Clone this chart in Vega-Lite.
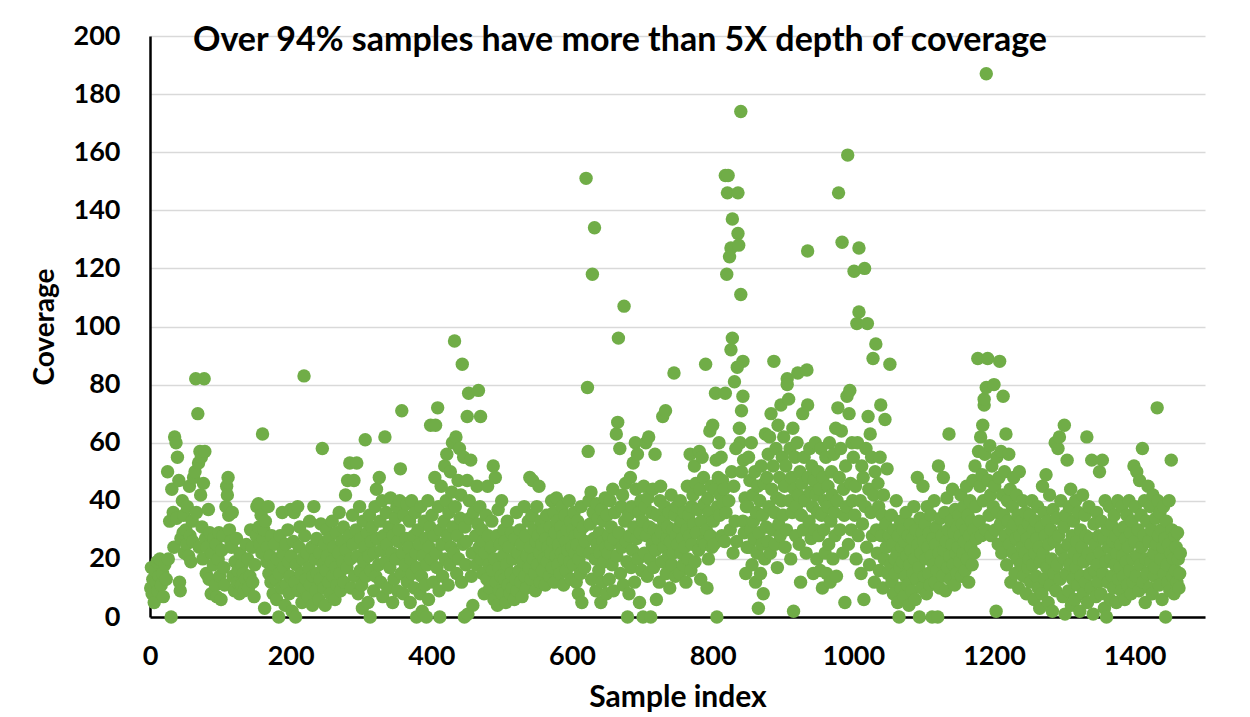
{
"$schema":"https://vega.github.io/schema/vega-lite/v6.json",
"autosize":{"type":"none"},
"padding":{"left":150,"top":36,"right":45,"bottom":100},
"width":1055,"height":581,
"background":"white",
"title":{"text":"Over 94% samples have more than 5X depth of coverage","anchor":"start","frame":"group","dx":43,"dy":44,"offset":-19,"baseline":"alphabetic","font":"Lato","fontSize":34,"fontWeight":"bold","color":"#000000"},
"data":{"values":[
{"idx":1,"cov":10},{"idx":2,"cov":17},{"idx":3,"cov":8},{"idx":4,"cov":13},{"idx":6,"cov":5},{"idx":7,"cov":16},{"idx":9,"cov":12},{"idx":10,"cov":19},{"idx":11,"cov":9},{"idx":13,"cov":14},{"idx":14,"cov":20},{"idx":16,"cov":11},{"idx":18,"cov":15},{"idx":19,"cov":7},{"idx":21,"cov":18},{"idx":23,"cov":13},{"idx":25,"cov":50},{"idx":26,"cov":20},{"idx":28,"cov":33},{"idx":30,"cov":0},{"idx":31,"cov":44},{"idx":33,"cov":36},{"idx":34,"cov":24},{"idx":35,"cov":62},{"idx":37,"cov":60},{"idx":38,"cov":34},{"idx":39,"cov":55},{"idx":41,"cov":47},{"idx":42,"cov":12},{"idx":43,"cov":9},{"idx":44,"cov":27},{"idx":46,"cov":40},{"idx":47,"cov":29},{"idx":48,"cov":35},{"idx":49,"cov":22},
{"idx":51,"cov":30},{"idx":52,"cov":25},{"idx":53,"cov":38},{"idx":55,"cov":21},{"idx":56,"cov":45},{"idx":57,"cov":28},{"idx":58,"cov":19},{"idx":60,"cov":33},{"idx":61,"cov":26},{"idx":62,"cov":48},{"idx":64,"cov":50},{"idx":65,"cov":82},{"idx":66,"cov":36},{"idx":68,"cov":70},{"idx":69,"cov":53},{"idx":70,"cov":24},{"idx":71,"cov":57},{"idx":72,"cov":42},{"idx":73,"cov":55},{"idx":74,"cov":31},{"idx":75,"cov":20},{"idx":77,"cov":82},{"idx":76,"cov":46},{"idx":78,"cov":57},{"idx":79,"cov":27},{"idx":80,"cov":15},{"idx":81,"cov":24},{"idx":83,"cov":37},{"idx":84,"cov":13},{"idx":85,"cov":29},{"idx":87,"cov":8},{"idx":88,"cov":22},{"idx":90,"cov":18},{"idx":91,"cov":27},{"idx":93,"cov":11},{"idx":94,"cov":25},{"idx":95,"cov":7},{"idx":97,"cov":20},{"idx":98,"cov":29},{"idx":99,"cov":14},
{"idx":101,"cov":6},{"idx":102,"cov":23},{"idx":104,"cov":28},{"idx":105,"cov":17},{"idx":106,"cov":11},{"idx":108,"cov":38},{"idx":109,"cov":45},{"idx":110,"cov":42},{"idx":111,"cov":48},{"idx":112,"cov":35},{"idx":113,"cov":30},{"idx":115,"cov":26},{"idx":116,"cov":24},{"idx":117,"cov":36},{"idx":118,"cov":14},{"idx":120,"cov":9},{"idx":121,"cov":19},{"idx":123,"cov":27},{"idx":124,"cov":12},{"idx":125,"cov":16},{"idx":127,"cov":8},{"idx":128,"cov":22},{"idx":130,"cov":11},{"idx":131,"cov":18},{"idx":133,"cov":15},{"idx":134,"cov":9},{"idx":136,"cov":13},{"idx":137,"cov":25},{"idx":139,"cov":20},{"idx":140,"cov":10},{"idx":142,"cov":14},{"idx":143,"cov":30},{"idx":145,"cov":24},{"idx":146,"cov":12},{"idx":148,"cov":7},{"idx":149,"cov":18},
{"idx":151,"cov":28},{"idx":152,"cov":38},{"idx":154,"cov":39},{"idx":155,"cov":31},{"idx":156,"cov":25},{"idx":158,"cov":35},{"idx":159,"cov":22},{"idx":160,"cov":63},{"idx":161,"cov":27},{"idx":162,"cov":30},{"idx":163,"cov":3},{"idx":164,"cov":33},{"idx":166,"cov":19},{"idx":167,"cov":24},{"idx":168,"cov":38},{"idx":169,"cov":15},{"idx":171,"cov":21},{"idx":172,"cov":12},{"idx":173,"cov":28},{"idx":175,"cov":8},{"idx":176,"cov":18},{"idx":177,"cov":25},{"idx":179,"cov":13},{"idx":180,"cov":6},{"idx":181,"cov":20},{"idx":183,"cov":0},{"idx":184,"cov":15},{"idx":185,"cov":28},{"idx":187,"cov":10},{"idx":188,"cov":36},{"idx":189,"cov":22},{"idx":190,"cov":17},{"idx":192,"cov":4},{"idx":193,"cov":25},{"idx":194,"cov":11},{"idx":196,"cov":30},{"idx":197,"cov":19},{"idx":198,"cov":8},{"idx":199,"cov":14},
{"idx":200,"cov":37},{"idx":201,"cov":21},{"idx":202,"cov":2},{"idx":204,"cov":26},{"idx":205,"cov":36},{"idx":206,"cov":12},{"idx":207,"cov":0},{"idx":208,"cov":18},{"idx":210,"cov":38},{"idx":211,"cov":9},{"idx":212,"cov":24},{"idx":213,"cov":31},{"idx":215,"cov":15},{"idx":216,"cov":5},{"idx":217,"cov":20},{"idx":218,"cov":10},{"idx":220,"cov":28},{"idx":219,"cov":83},{"idx":222,"cov":13},{"idx":223,"cov":22},{"idx":225,"cov":7},{"idx":226,"cov":17},{"idx":227,"cov":33},{"idx":228,"cov":11},{"idx":230,"cov":24},{"idx":231,"cov":4},{"idx":232,"cov":14},{"idx":233,"cov":38},{"idx":235,"cov":20},{"idx":236,"cov":9},{"idx":237,"cov":27},{"idx":238,"cov":15},{"idx":240,"cov":6},{"idx":241,"cov":22},{"idx":242,"cov":13},{"idx":243,"cov":32},{"idx":245,"cov":58},{"idx":246,"cov":18},{"idx":247,"cov":10},{"idx":248,"cov":25},{"idx":249,"cov":4},
{"idx":250,"cov":16},{"idx":251,"cov":30},{"idx":252,"cov":21},{"idx":254,"cov":12},{"idx":255,"cov":27},{"idx":256,"cov":8},{"idx":258,"cov":19},{"idx":259,"cov":33},{"idx":260,"cov":14},{"idx":261,"cov":24},{"idx":263,"cov":6},{"idx":264,"cov":17},{"idx":265,"cov":29},{"idx":266,"cov":11},{"idx":268,"cov":22},{"idx":269,"cov":36},{"idx":270,"cov":15},{"idx":271,"cov":9},{"idx":273,"cov":26},{"idx":274,"cov":19},{"idx":275,"cov":31},{"idx":276,"cov":12},{"idx":278,"cov":42},{"idx":279,"cov":23},{"idx":280,"cov":17},{"idx":281,"cov":47},{"idx":283,"cov":28},{"idx":284,"cov":53},{"idx":285,"cov":20},{"idx":286,"cov":10},{"idx":288,"cov":35},{"idx":289,"cov":25},{"idx":290,"cov":47},{"idx":291,"cov":14},{"idx":293,"cov":30},{"idx":294,"cov":53},{"idx":295,"cov":21},{"idx":296,"cov":8},{"idx":298,"cov":38},{"idx":299,"cov":16},
{"idx":300,"cov":27},{"idx":301,"cov":11},{"idx":302,"cov":3},{"idx":303,"cov":33},{"idx":304,"cov":19},{"idx":305,"cov":24},{"idx":306,"cov":61},{"idx":307,"cov":14},{"idx":309,"cov":29},{"idx":310,"cov":5},{"idx":311,"cov":21},{"idx":312,"cov":35},{"idx":313,"cov":0},{"idx":314,"cov":16},{"idx":315,"cov":26},{"idx":316,"cov":31},{"idx":318,"cov":9},{"idx":319,"cov":22},{"idx":320,"cov":38},{"idx":321,"cov":14},{"idx":322,"cov":44},{"idx":323,"cov":27},{"idx":325,"cov":18},{"idx":326,"cov":48},{"idx":327,"cov":33},{"idx":328,"cov":12},{"idx":329,"cov":23},{"idx":330,"cov":40},{"idx":331,"cov":7},{"idx":332,"cov":28},{"idx":334,"cov":62},{"idx":335,"cov":19},{"idx":336,"cov":36},{"idx":337,"cov":25},{"idx":338,"cov":10},{"idx":340,"cov":31},{"idx":341,"cov":17},{"idx":342,"cov":41},{"idx":344,"cov":22},{"idx":345,"cov":5},{"idx":346,"cov":28},{"idx":347,"cov":13},{"idx":349,"cov":34},
{"idx":350,"cov":20},{"idx":351,"cov":38},{"idx":352,"cov":9},{"idx":353,"cov":26},{"idx":358,"cov":71},{"idx":355,"cov":40},{"idx":356,"cov":51},{"idx":357,"cov":15},{"idx":354,"cov":30},{"idx":359,"cov":22},{"idx":360,"cov":8},{"idx":361,"cov":35},{"idx":363,"cov":18},{"idx":364,"cov":27},{"idx":365,"cov":39},{"idx":366,"cov":12},{"idx":368,"cov":24},{"idx":369,"cov":33},{"idx":370,"cov":5},{"idx":371,"cov":20},{"idx":372,"cov":40},{"idx":373,"cov":15},{"idx":375,"cov":28},{"idx":376,"cov":10},{"idx":377,"cov":36},{"idx":378,"cov":22},{"idx":379,"cov":0},{"idx":380,"cov":17},{"idx":381,"cov":30},{"idx":383,"cov":25},{"idx":384,"cov":8},{"idx":385,"cov":38},{"idx":386,"cov":14},{"idx":387,"cov":2},{"idx":388,"cov":21},{"idx":390,"cov":33},{"idx":391,"cov":11},{"idx":392,"cov":27},{"idx":393,"cov":0},{"idx":394,"cov":18},{"idx":395,"cov":40},{"idx":396,"cov":6},{"idx":397,"cov":24},{"idx":398,"cov":31},{"idx":399,"cov":66},
{"idx":400,"cov":20},{"idx":401,"cov":35},{"idx":403,"cov":12},{"idx":404,"cov":28},{"idx":405,"cov":48},{"idx":406,"cov":66},{"idx":407,"cov":22},{"idx":408,"cov":17},{"idx":409,"cov":72},{"idx":410,"cov":38},{"idx":411,"cov":9},{"idx":412,"cov":0},{"idx":413,"cov":30},{"idx":414,"cov":45},{"idx":415,"cov":25},{"idx":416,"cov":14},{"idx":418,"cov":33},{"idx":419,"cov":52},{"idx":420,"cov":20},{"idx":421,"cov":40},{"idx":422,"cov":56},{"idx":423,"cov":28},{"idx":424,"cov":11},{"idx":425,"cov":36},{"idx":426,"cov":18},{"idx":427,"cov":50},{"idx":428,"cov":24},{"idx":429,"cov":43},{"idx":430,"cov":60},{"idx":431,"cov":31},{"idx":433,"cov":95},{"idx":432,"cov":22},{"idx":434,"cov":38},{"idx":435,"cov":62},{"idx":436,"cov":15},{"idx":437,"cov":28},{"idx":438,"cov":47},{"idx":439,"cov":20},{"idx":440,"cov":58},{"idx":441,"cov":34},{"idx":444,"cov":87},{"idx":443,"cov":12},{"idx":442,"cov":42},{"idx":445,"cov":25},{"idx":446,"cov":55},{"idx":447,"cov":0},{"idx":448,"cov":31},{"idx":449,"cov":18},
{"idx":453,"cov":77},{"idx":451,"cov":47},{"idx":452,"cov":1},{"idx":450,"cov":26},{"idx":454,"cov":40},{"idx":455,"cov":34},{"idx":456,"cov":54},{"idx":457,"cov":14},{"idx":458,"cov":22},{"idx":459,"cov":4},{"idx":460,"cov":36},{"idx":451,"cov":69},{"idx":467,"cov":78},{"idx":463,"cov":28},{"idx":464,"cov":18},{"idx":465,"cov":45},{"idx":466,"cov":32},{"idx":470,"cov":69},{"idx":468,"cov":24},{"idx":469,"cov":38},{"idx":471,"cov":20},{"idx":472,"cov":30},{"idx":473,"cov":15},{"idx":474,"cov":26},{"idx":475,"cov":8},{"idx":476,"cov":22},{"idx":478,"cov":35},{"idx":479,"cov":13},{"idx":480,"cov":45},{"idx":481,"cov":28},{"idx":482,"cov":18},{"idx":483,"cov":10},{"idx":485,"cov":24},{"idx":486,"cov":33},{"idx":487,"cov":16},{"idx":488,"cov":52},{"idx":489,"cov":6},{"idx":490,"cov":20},{"idx":491,"cov":48},{"idx":492,"cov":12},{"idx":493,"cov":28},{"idx":494,"cov":4},{"idx":495,"cov":37},{"idx":496,"cov":17},{"idx":497,"cov":9},{"idx":498,"cov":25},{"idx":499,"cov":14},
{"idx":500,"cov":40},{"idx":501,"cov":8},{"idx":502,"cov":21},{"idx":503,"cov":30},{"idx":504,"cov":13},{"idx":505,"cov":26},{"idx":506,"cov":5},{"idx":507,"cov":18},{"idx":508,"cov":33},{"idx":509,"cov":11},{"idx":510,"cov":24},{"idx":512,"cov":8},{"idx":513,"cov":15},{"idx":514,"cov":29},{"idx":515,"cov":10},{"idx":516,"cov":20},{"idx":518,"cov":6},{"idx":519,"cov":27},{"idx":520,"cov":13},{"idx":521,"cov":36},{"idx":522,"cov":9},{"idx":523,"cov":22},{"idx":525,"cov":16},{"idx":526,"cov":30},{"idx":527,"cov":12},{"idx":528,"cov":25},{"idx":529,"cov":7},{"idx":530,"cov":19},{"idx":532,"cov":38},{"idx":533,"cov":14},{"idx":534,"cov":28},{"idx":535,"cov":10},{"idx":536,"cov":21},{"idx":538,"cov":33},{"idx":539,"cov":17},{"idx":540,"cov":48},{"idx":541,"cov":24},{"idx":542,"cov":13},{"idx":543,"cov":35},{"idx":544,"cov":47},{"idx":545,"cov":20},{"idx":546,"cov":30},{"idx":547,"cov":15},{"idx":548,"cov":9},{"idx":549,"cov":26},
{"idx":550,"cov":38},{"idx":551,"cov":18},{"idx":552,"cov":28},{"idx":553,"cov":45},{"idx":554,"cov":22},{"idx":555,"cov":12},{"idx":556,"cov":33},{"idx":557,"cov":25},{"idx":558,"cov":16},{"idx":559,"cov":30},{"idx":560,"cov":20},{"idx":562,"cov":11},{"idx":563,"cov":27},{"idx":564,"cov":35},{"idx":565,"cov":19},{"idx":566,"cov":24},{"idx":568,"cov":14},{"idx":569,"cov":31},{"idx":570,"cov":22},{"idx":571,"cov":40},{"idx":572,"cov":17},{"idx":573,"cov":26},{"idx":574,"cov":36},{"idx":575,"cov":12},{"idx":576,"cov":29},{"idx":577,"cov":21},{"idx":578,"cov":41},{"idx":579,"cov":33},{"idx":580,"cov":18},{"idx":581,"cov":25},{"idx":583,"cov":15},{"idx":584,"cov":31},{"idx":585,"cov":22},{"idx":586,"cov":38},{"idx":587,"cov":28},{"idx":588,"cov":11},{"idx":589,"cov":20},{"idx":590,"cov":35},{"idx":591,"cov":26},{"idx":592,"cov":16},{"idx":593,"cov":30},{"idx":594,"cov":23},{"idx":596,"cov":40},{"idx":597,"cov":19},{"idx":598,"cov":33},{"idx":599,"cov":13},
{"idx":600,"cov":24},{"idx":601,"cov":30},{"idx":602,"cov":18},{"idx":603,"cov":36},{"idx":604,"cov":22},{"idx":605,"cov":28},{"idx":606,"cov":12},{"idx":607,"cov":25},{"idx":608,"cov":33},{"idx":609,"cov":8},{"idx":610,"cov":20},{"idx":611,"cov":29},{"idx":612,"cov":15},{"idx":613,"cov":38},{"idx":614,"cov":5},{"idx":615,"cov":23},{"idx":616,"cov":31},{"idx":622,"cov":79},{"idx":620,"cov":151},{"idx":619,"cov":26},{"idx":618,"cov":17},{"idx":623,"cov":57},{"idx":624,"cov":40},{"idx":625,"cov":22},{"idx":629,"cov":118},{"idx":626,"cov":32},{"idx":627,"cov":43},{"idx":628,"cov":13},{"idx":630,"cov":36},{"idx":632,"cov":134},{"idx":631,"cov":27},{"idx":633,"cov":20},{"idx":634,"cov":9},{"idx":635,"cov":39},{"idx":636,"cov":25},{"idx":637,"cov":34},{"idx":638,"cov":16},{"idx":639,"cov":29},{"idx":640,"cov":22},{"idx":641,"cov":5},{"idx":642,"cov":37},{"idx":643,"cov":12},{"idx":644,"cov":26},{"idx":645,"cov":33},{"idx":646,"cov":19},{"idx":647,"cov":41},{"idx":648,"cov":24},{"idx":649,"cov":8},
{"idx":650,"cov":35},{"idx":651,"cov":22},{"idx":652,"cov":28},{"idx":653,"cov":13},{"idx":654,"cov":40},{"idx":655,"cov":25},{"idx":656,"cov":31},{"idx":657,"cov":18},{"idx":658,"cov":44},{"idx":659,"cov":9},{"idx":660,"cov":27},{"idx":661,"cov":36},{"idx":663,"cov":63},{"idx":666,"cov":96},{"idx":665,"cov":67},{"idx":664,"cov":21},{"idx":668,"cov":58},{"idx":667,"cov":29},{"idx":669,"cov":15},{"idx":670,"cov":38},{"idx":671,"cov":24},{"idx":674,"cov":107},{"idx":672,"cov":42},{"idx":673,"cov":11},{"idx":675,"cov":33},{"idx":676,"cov":46},{"idx":677,"cov":26},{"idx":678,"cov":19},{"idx":679,"cov":0},{"idx":680,"cov":35},{"idx":690,"cov":60},{"idx":681,"cov":8},{"idx":682,"cov":28},{"idx":683,"cov":48},{"idx":684,"cov":17},{"idx":685,"cov":38},{"idx":686,"cov":23},{"idx":687,"cov":53},{"idx":688,"cov":31},{"idx":689,"cov":12},{"idx":691,"cov":44},{"idx":692,"cov":27},{"idx":693,"cov":56},{"idx":694,"cov":20},{"idx":695,"cov":36},{"idx":696,"cov":5},{"idx":697,"cov":29},{"idx":698,"cov":40},{"idx":699,"cov":16},
{"idx":700,"cov":33},{"idx":701,"cov":0},{"idx":702,"cov":45},{"idx":703,"cov":22},{"idx":704,"cov":38},{"idx":705,"cov":60},{"idx":706,"cov":28},{"idx":707,"cov":14},{"idx":708,"cov":41},{"idx":709,"cov":62},{"idx":710,"cov":31},{"idx":711,"cov":20},{"idx":712,"cov":0},{"idx":713,"cov":36},{"idx":714,"cov":25},{"idx":715,"cov":44},{"idx":716,"cov":17},{"idx":717,"cov":30},{"idx":718,"cov":56},{"idx":719,"cov":23},{"idx":720,"cov":6},{"idx":721,"cov":35},{"idx":722,"cov":27},{"idx":729,"cov":69},{"idx":724,"cov":12},{"idx":725,"cov":40},{"idx":733,"cov":71},{"idx":727,"cov":29},{"idx":728,"cov":19},{"idx":726,"cov":45},{"idx":730,"cov":33},{"idx":731,"cov":24},{"idx":732,"cov":38},{"idx":734,"cov":15},{"idx":735,"cov":27},{"idx":736,"cov":31},{"idx":737,"cov":21},{"idx":745,"cov":84},{"idx":738,"cov":36},{"idx":739,"cov":10},{"idx":740,"cov":26},{"idx":741,"cov":42},{"idx":742,"cov":18},{"idx":743,"cov":30},{"idx":744,"cov":22},{"idx":746,"cov":35},{"idx":747,"cov":14},{"idx":748,"cov":28},{"idx":749,"cov":38},
{"idx":750,"cov":25},{"idx":752,"cov":31},{"idx":753,"cov":15},{"idx":754,"cov":40},{"idx":755,"cov":22},{"idx":756,"cov":33},{"idx":757,"cov":27},{"idx":758,"cov":18},{"idx":759,"cov":36},{"idx":760,"cov":24},{"idx":762,"cov":12},{"idx":763,"cov":30},{"idx":764,"cov":45},{"idx":765,"cov":20},{"idx":766,"cov":35},{"idx":767,"cov":28},{"idx":768,"cov":56},{"idx":769,"cov":16},{"idx":770,"cov":38},{"idx":771,"cov":25},{"idx":772,"cov":42},{"idx":773,"cov":32},{"idx":774,"cov":52},{"idx":775,"cov":19},{"idx":776,"cov":46},{"idx":777,"cov":29},{"idx":790,"cov":87},{"idx":779,"cov":37},{"idx":780,"cov":23},{"idx":781,"cov":57},{"idx":782,"cov":44},{"idx":783,"cov":13},{"idx":784,"cov":33},{"idx":804,"cov":77},{"idx":786,"cov":26},{"idx":787,"cov":48},{"idx":788,"cov":39},{"idx":789,"cov":25},{"idx":785,"cov":55},{"idx":791,"cov":30},{"idx":792,"cov":10},{"idx":793,"cov":41},{"idx":794,"cov":20},{"idx":795,"cov":36},{"idx":796,"cov":64},{"idx":797,"cov":28},{"idx":798,"cov":45},{"idx":799,"cov":24},
{"idx":800,"cov":66},{"idx":801,"cov":33},{"idx":818,"cov":77},{"idx":803,"cov":44},{"idx":802,"cov":25},{"idx":805,"cov":54},{"idx":806,"cov":0},{"idx":807,"cov":38},{"idx":808,"cov":48},{"idx":809,"cov":60},{"idx":810,"cov":35},{"idx":811,"cov":42},{"idx":812,"cov":55},{"idx":813,"cov":28},{"idx":814,"cov":47},{"idx":815,"cov":39},{"idx":816,"cov":44},{"idx":817,"cov":26},
{"idx":820,"cov":118},{"idx":818,"cov":152},{"idx":822,"cov":152},{"idx":821,"cov":146},{"idx":836,"cov":146},{"idx":828,"cov":137},{"idx":836,"cov":132},{"idx":826,"cov":127},{"idx":837,"cov":128},{"idx":824,"cov":124},{"idx":840,"cov":111},{"idx":840,"cov":174},{"idx":828,"cov":96},{"idx":826,"cov":92},{"idx":843,"cov":88},{"idx":835,"cov":86},{"idx":831,"cov":81},{"idx":843,"cov":76},{"idx":841,"cov":71},{"idx":838,"cov":65},{"idx":839,"cov":60},{"idx":844,"cov":54},{"idx":819,"cov":36},{"idx":823,"cov":40},{"idx":825,"cov":30},{"idx":827,"cov":50},{"idx":829,"cov":22},{"idx":830,"cov":45},{"idx":832,"cov":33},{"idx":833,"cov":58},{"idx":834,"cov":26},{"idx":841,"cov":50},{"idx":843,"cov":33},{"idx":845,"cov":29},{"idx":846,"cov":41},{"idx":847,"cov":15},{"idx":848,"cov":38},{"idx":849,"cov":24},
{"idx":850,"cov":38},{"idx":851,"cov":55},{"idx":852,"cov":24},{"idx":853,"cov":47},{"idx":854,"cov":30},{"idx":855,"cov":60},{"idx":856,"cov":18},{"idx":857,"cov":42},{"idx":858,"cov":33},{"idx":859,"cov":27},{"idx":860,"cov":50},{"idx":861,"cov":12},{"idx":862,"cov":36},{"idx":863,"cov":22},{"idx":864,"cov":45},{"idx":865,"cov":3},{"idx":866,"cov":29},{"idx":867,"cov":40},{"idx":868,"cov":15},{"idx":869,"cov":52},{"idx":870,"cov":25},{"idx":871,"cov":35},{"idx":872,"cov":8},{"idx":873,"cov":46},{"idx":874,"cov":20},{"idx":875,"cov":63},{"idx":876,"cov":31},{"idx":877,"cov":48},{"idx":878,"cov":26},{"idx":879,"cov":56},{"idx":880,"cov":38},{"idx":881,"cov":62},{"idx":882,"cov":22},{"idx":883,"cov":70},{"idx":884,"cov":44},{"idx":885,"cov":30},{"idx":886,"cov":52},{"idx":887,"cov":88},{"idx":888,"cov":36},{"idx":889,"cov":25},{"idx":890,"cov":58},{"idx":891,"cov":41},{"idx":892,"cov":17},{"idx":893,"cov":66},{"idx":894,"cov":32},{"idx":895,"cov":48},{"idx":896,"cov":28},{"idx":897,"cov":73},{"idx":898,"cov":40},{"idx":899,"cov":55},
{"idx":900,"cov":35},{"idx":901,"cov":62},{"idx":902,"cov":45},{"idx":903,"cov":24},{"idx":904,"cov":52},{"idx":905,"cov":30},{"idx":906,"cov":82},{"idx":906,"cov":80},{"idx":908,"cov":75},{"idx":909,"cov":40},{"idx":910,"cov":58},{"idx":911,"cov":20},{"idx":912,"cov":48},{"idx":913,"cov":36},{"idx":914,"cov":65},{"idx":915,"cov":2},{"idx":916,"cov":44},{"idx":917,"cov":55},{"idx":918,"cov":28},{"idx":919,"cov":38},{"idx":920,"cov":60},{"idx":921,"cov":84},{"idx":922,"cov":42},{"idx":923,"cov":25},{"idx":924,"cov":50},{"idx":925,"cov":12},{"idx":926,"cov":35},{"idx":927,"cov":46},{"idx":928,"cov":70},{"idx":929,"cov":30},{"idx":930,"cov":55},{"idx":931,"cov":40},{"idx":935,"cov":73},{"idx":933,"cov":22},{"idx":934,"cov":85},{"idx":935,"cov":126},{"idx":936,"cov":48},{"idx":937,"cov":33},{"idx":938,"cov":58},{"idx":939,"cov":43},{"idx":940,"cov":27},{"idx":941,"cov":52},{"idx":942,"cov":38},{"idx":943,"cov":15},{"idx":944,"cov":47},{"idx":945,"cov":30},{"idx":946,"cov":60},{"idx":947,"cov":42},{"idx":948,"cov":20},{"idx":949,"cov":36},
{"idx":950,"cov":50},{"idx":951,"cov":28},{"idx":952,"cov":44},{"idx":953,"cov":16},{"idx":954,"cov":58},{"idx":955,"cov":35},{"idx":956,"cov":10},{"idx":957,"cov":48},{"idx":958,"cov":30},{"idx":959,"cov":40},{"idx":960,"cov":22},{"idx":961,"cov":55},{"idx":962,"cov":15},{"idx":963,"cov":38},{"idx":964,"cov":45},{"idx":965,"cov":25},{"idx":966,"cov":60},{"idx":967,"cov":12},{"idx":968,"cov":33},{"idx":969,"cov":50},{"idx":970,"cov":42},{"idx":971,"cov":20},{"idx":972,"cov":56},{"idx":973,"cov":36},{"idx":974,"cov":28},{"idx":975,"cov":65},{"idx":976,"cov":14},{"idx":977,"cov":40},{"idx":978,"cov":72},{"idx":979,"cov":146},{"idx":980,"cov":48},{"idx":981,"cov":30},{"idx":982,"cov":58},{"idx":983,"cov":64},{"idx":984,"cov":129},{"idx":985,"cov":22},{"idx":986,"cov":44},{"idx":987,"cov":35},{"idx":988,"cov":5},{"idx":989,"cov":52},{"idx":991,"cov":76},{"idx":990,"cov":38},{"idx":992,"cov":159},{"idx":993,"cov":25},{"idx":994,"cov":70},{"idx":995,"cov":78},{"idx":996,"cov":46},{"idx":997,"cov":30},{"idx":998,"cov":60},{"idx":999,"cov":40},
{"idx":1001,"cov":119},{"idx":1000,"cov":55},{"idx":1002,"cov":35},{"idx":1003,"cov":45},{"idx":1004,"cov":20},{"idx":1005,"cov":101},{"idx":1006,"cov":60},{"idx":1007,"cov":28},{"idx":1008,"cov":127},{"idx":1008,"cov":105},{"idx":1010,"cov":40},{"idx":1011,"cov":15},{"idx":1012,"cov":52},{"idx":1013,"cov":32},{"idx":1014,"cov":48},{"idx":1015,"cov":6},{"idx":1016,"cov":120},{"idx":1017,"cov":38},{"idx":1018,"cov":58},{"idx":1019,"cov":24},{"idx":1020,"cov":101},{"idx":1021,"cov":69},{"idx":1022,"cov":44},{"idx":1023,"cov":18},{"idx":1024,"cov":63},{"idx":1025,"cov":36},{"idx":1026,"cov":55},{"idx":1027,"cov":28},{"idx":1028,"cov":89},{"idx":1029,"cov":42},{"idx":1030,"cov":12},{"idx":1031,"cov":50},{"idx":1032,"cov":94},{"idx":1033,"cov":30},{"idx":1034,"cov":22},{"idx":1035,"cov":46},{"idx":1036,"cov":38},{"idx":1037,"cov":16},{"idx":1038,"cov":55},{"idx":1039,"cov":73},{"idx":1040,"cov":28},{"idx":1041,"cov":35},{"idx":1042,"cov":10},{"idx":1043,"cov":42},{"idx":1044,"cov":20},{"idx":1045,"cov":68},{"idx":1046,"cov":32},{"idx":1047,"cov":24},{"idx":1048,"cov":51},{"idx":1049,"cov":15},{"idx":1052,"cov":87},
{"idx":1051,"cov":28},{"idx":1053,"cov":18},{"idx":1054,"cov":35},{"idx":1055,"cov":12},{"idx":1056,"cov":25},{"idx":1057,"cov":8},{"idx":1058,"cov":30},{"idx":1059,"cov":20},{"idx":1060,"cov":15},{"idx":1061,"cov":40},{"idx":1062,"cov":22},{"idx":1063,"cov":5},{"idx":1064,"cov":28},{"idx":1065,"cov":0},{"idx":1066,"cov":17},{"idx":1067,"cov":33},{"idx":1068,"cov":10},{"idx":1069,"cov":24},{"idx":1070,"cov":19},{"idx":1071,"cov":30},{"idx":1072,"cov":7},{"idx":1073,"cov":26},{"idx":1074,"cov":14},{"idx":1075,"cov":36},{"idx":1076,"cov":21},{"idx":1077,"cov":11},{"idx":1078,"cov":28},{"idx":1079,"cov":4},{"idx":1080,"cov":18},{"idx":1081,"cov":32},{"idx":1082,"cov":23},{"idx":1083,"cov":9},{"idx":1084,"cov":27},{"idx":1085,"cov":15},{"idx":1086,"cov":38},{"idx":1087,"cov":20},{"idx":1088,"cov":6},{"idx":1089,"cov":30},{"idx":1090,"cov":13},{"idx":1091,"cov":48},{"idx":1092,"cov":25},{"idx":1093,"cov":17},{"idx":1094,"cov":0},{"idx":1095,"cov":34},{"idx":1096,"cov":22},{"idx":1097,"cov":10},{"idx":1098,"cov":29},{"idx":1099,"cov":45},
{"idx":1100,"cov":26},{"idx":1101,"cov":14},{"idx":1102,"cov":32},{"idx":1103,"cov":20},{"idx":1104,"cov":8},{"idx":1105,"cov":38},{"idx":1106,"cov":24},{"idx":1107,"cov":15},{"idx":1108,"cov":29},{"idx":1109,"cov":11},{"idx":1110,"cov":35},{"idx":1111,"cov":21},{"idx":1112,"cov":0},{"idx":1113,"cov":27},{"idx":1114,"cov":18},{"idx":1115,"cov":40},{"idx":1116,"cov":12},{"idx":1117,"cov":25},{"idx":1118,"cov":31},{"idx":1119,"cov":16},{"idx":1120,"cov":0},{"idx":1121,"cov":52},{"idx":1122,"cov":22},{"idx":1123,"cov":10},{"idx":1124,"cov":34},{"idx":1125,"cov":19},{"idx":1126,"cov":28},{"idx":1127,"cov":14},{"idx":1128,"cov":48},{"idx":1129,"cov":23},{"idx":1130,"cov":36},{"idx":1131,"cov":9},{"idx":1132,"cov":26},{"idx":1133,"cov":41},{"idx":1134,"cov":17},{"idx":1135,"cov":30},{"idx":1136,"cov":63},{"idx":1137,"cov":21},{"idx":1138,"cov":13},{"idx":1139,"cov":33},{"idx":1140,"cov":25},{"idx":1141,"cov":44},{"idx":1142,"cov":18},{"idx":1143,"cov":29},{"idx":1144,"cov":11},{"idx":1145,"cov":37},{"idx":1146,"cov":22},{"idx":1147,"cov":15},{"idx":1148,"cov":31},{"idx":1149,"cov":24},
{"idx":1150,"cov":35},{"idx":1151,"cov":19},{"idx":1152,"cov":28},{"idx":1153,"cov":42},{"idx":1154,"cov":14},{"idx":1155,"cov":32},{"idx":1156,"cov":22},{"idx":1157,"cov":38},{"idx":1158,"cov":26},{"idx":1159,"cov":16},{"idx":1160,"cov":30},{"idx":1161,"cov":45},{"idx":1162,"cov":20},{"idx":1163,"cov":35},{"idx":1164,"cov":12},{"idx":1165,"cov":28},{"idx":1166,"cov":40},{"idx":1167,"cov":24},{"idx":1168,"cov":33},{"idx":1169,"cov":18},{"idx":1170,"cov":47},{"idx":1171,"cov":30},{"idx":1172,"cov":22},{"idx":1173,"cov":52},{"idx":1174,"cov":38},{"idx":1175,"cov":27},{"idx":1177,"cov":89},{"idx":1178,"cov":57},{"idx":1179,"cov":33},{"idx":1180,"cov":45},{"idx":1181,"cov":62},{"idx":1182,"cov":28},{"idx":1183,"cov":49},{"idx":1184,"cov":66},{"idx":1185,"cov":40},{"idx":1186,"cov":73},{"idx":1186,"cov":75},{"idx":1187,"cov":56},{"idx":1188,"cov":30},{"idx":1189,"cov":79},{"idx":1189,"cov":187},{"idx":1191,"cov":89},{"idx":1192,"cov":47},{"idx":1193,"cov":35},{"idx":1194,"cov":59},{"idx":1195,"cov":42},{"idx":1196,"cov":28},{"idx":1197,"cov":52},{"idx":1200,"cov":80},{"idx":1199,"cov":38},
{"idx":1201,"cov":45},{"idx":1202,"cov":30},{"idx":1203,"cov":2},{"idx":1204,"cov":55},{"idx":1205,"cov":36},{"idx":1206,"cov":25},{"idx":1207,"cov":48},{"idx":1208,"cov":88},{"idx":1209,"cov":32},{"idx":1210,"cov":57},{"idx":1211,"cov":22},{"idx":1212,"cov":42},{"idx":1213,"cov":76},{"idx":1214,"cov":35},{"idx":1215,"cov":50},{"idx":1216,"cov":28},{"idx":1217,"cov":63},{"idx":1218,"cov":18},{"idx":1219,"cov":40},{"idx":1220,"cov":33},{"idx":1221,"cov":56},{"idx":1222,"cov":25},{"idx":1223,"cov":44},{"idx":1224,"cov":12},{"idx":1225,"cov":30},{"idx":1226,"cov":38},{"idx":1227,"cov":22},{"idx":1228,"cov":48},{"idx":1229,"cov":32},{"idx":1230,"cov":15},{"idx":1231,"cov":27},{"idx":1232,"cov":42},{"idx":1233,"cov":20},{"idx":1234,"cov":35},{"idx":1235,"cov":10},{"idx":1236,"cov":50},{"idx":1237,"cov":28},{"idx":1238,"cov":18},{"idx":1239,"cov":33},{"idx":1240,"cov":24},{"idx":1241,"cov":40},{"idx":1242,"cov":14},{"idx":1243,"cov":30},{"idx":1244,"cov":22},{"idx":1245,"cov":36},{"idx":1246,"cov":8},{"idx":1247,"cov":27},{"idx":1248,"cov":17},{"idx":1249,"cov":32},
{"idx":1250,"cov":20},{"idx":1251,"cov":35},{"idx":1252,"cov":12},{"idx":1253,"cov":25},{"idx":1254,"cov":40},{"idx":1255,"cov":18},{"idx":1256,"cov":30},{"idx":1257,"cov":6},{"idx":1258,"cov":22},{"idx":1259,"cov":33},{"idx":1260,"cov":14},{"idx":1261,"cov":27},{"idx":1262,"cov":38},{"idx":1263,"cov":10},{"idx":1264,"cov":24},{"idx":1265,"cov":3},{"idx":1266,"cov":19},{"idx":1267,"cov":31},{"idx":1268,"cov":8},{"idx":1269,"cov":45},{"idx":1270,"cov":22},{"idx":1271,"cov":36},{"idx":1272,"cov":13},{"idx":1273,"cov":28},{"idx":1274,"cov":49},{"idx":1275,"cov":17},{"idx":1276,"cov":33},{"idx":1277,"cov":5},{"idx":1278,"cov":25},{"idx":1279,"cov":42},{"idx":1280,"cov":11},{"idx":1281,"cov":30},{"idx":1282,"cov":20},{"idx":1283,"cov":2},{"idx":1284,"cov":37},{"idx":1285,"cov":15},{"idx":1286,"cov":26},{"idx":1287,"cov":60},{"idx":1288,"cov":9},{"idx":1289,"cov":34},{"idx":1290,"cov":18},{"idx":1291,"cov":58},{"idx":1292,"cov":28},{"idx":1293,"cov":62},{"idx":1294,"cov":13},{"idx":1295,"cov":40},{"idx":1296,"cov":23},{"idx":1300,"cov":66},{"idx":1298,"cov":7},{"idx":1299,"cov":31},
{"idx":1300,"cov":20},{"idx":1301,"cov":1},{"idx":1302,"cov":35},{"idx":1303,"cov":15},{"idx":1304,"cov":54},{"idx":1305,"cov":25},{"idx":1306,"cov":9},{"idx":1307,"cov":38},{"idx":1308,"cov":18},{"idx":1309,"cov":44},{"idx":1310,"cov":4},{"idx":1311,"cov":28},{"idx":1312,"cov":13},{"idx":1313,"cov":33},{"idx":1314,"cov":22},{"idx":1315,"cov":6},{"idx":1316,"cov":40},{"idx":1317,"cov":17},{"idx":1318,"cov":26},{"idx":1319,"cov":11},{"idx":1320,"cov":36},{"idx":1321,"cov":20},{"idx":1322,"cov":2},{"idx":1323,"cov":30},{"idx":1324,"cov":14},{"idx":1325,"cov":24},{"idx":1326,"cov":42},{"idx":1327,"cov":8},{"idx":1328,"cov":19},{"idx":1329,"cov":35},{"idx":1330,"cov":12},{"idx":1331,"cov":28},{"idx":1332,"cov":62},{"idx":1333,"cov":5},{"idx":1334,"cov":22},{"idx":1335,"cov":38},{"idx":1336,"cov":15},{"idx":1337,"cov":27},{"idx":1338,"cov":10},{"idx":1339,"cov":54},{"idx":1340,"cov":20},{"idx":1341,"cov":1},{"idx":1342,"cov":32},{"idx":1343,"cov":16},{"idx":1344,"cov":25},{"idx":1345,"cov":7},{"idx":1346,"cov":36},{"idx":1347,"cov":18},{"idx":1348,"cov":12},{"idx":1349,"cov":28},
{"idx":1350,"cov":50},{"idx":1351,"cov":22},{"idx":1352,"cov":8},{"idx":1353,"cov":33},{"idx":1354,"cov":54},{"idx":1355,"cov":15},{"idx":1356,"cov":27},{"idx":1357,"cov":3},{"idx":1358,"cov":40},{"idx":1359,"cov":19},{"idx":1360,"cov":0},{"idx":1361,"cov":30},{"idx":1362,"cov":12},{"idx":1363,"cov":24},{"idx":1364,"cov":38},{"idx":1365,"cov":6},{"idx":1366,"cov":20},{"idx":1367,"cov":32},{"idx":1368,"cov":14},{"idx":1369,"cov":26},{"idx":1370,"cov":10},{"idx":1371,"cov":35},{"idx":1372,"cov":18},{"idx":1373,"cov":28},{"idx":1374,"cov":5},{"idx":1375,"cov":22},{"idx":1376,"cov":40},{"idx":1377,"cov":13},{"idx":1378,"cov":30},{"idx":1379,"cov":17},{"idx":1380,"cov":25},{"idx":1381,"cov":9},{"idx":1382,"cov":38},{"idx":1383,"cov":21},{"idx":1384,"cov":14},{"idx":1385,"cov":31},{"idx":1386,"cov":6},{"idx":1387,"cov":27},{"idx":1388,"cov":19},{"idx":1389,"cov":35},{"idx":1390,"cov":11},{"idx":1391,"cov":24},{"idx":1392,"cov":40},{"idx":1393,"cov":16},{"idx":1394,"cov":29},{"idx":1395,"cov":8},{"idx":1396,"cov":33},{"idx":1397,"cov":20},{"idx":1398,"cov":12},{"idx":1399,"cov":52},
{"idx":1400,"cov":26},{"idx":1401,"cov":38},{"idx":1402,"cov":14},{"idx":1403,"cov":50},{"idx":1404,"cov":21},{"idx":1405,"cov":30},{"idx":1406,"cov":9},{"idx":1407,"cov":47},{"idx":1408,"cov":18},{"idx":1409,"cov":35},{"idx":1410,"cov":24},{"idx":1411,"cov":58},{"idx":1412,"cov":12},{"idx":1413,"cov":28},{"idx":1414,"cov":40},{"idx":1415,"cov":5},{"idx":1416,"cov":20},{"idx":1417,"cov":33},{"idx":1418,"cov":15},{"idx":1419,"cov":45},{"idx":1420,"cov":26},{"idx":1421,"cov":10},{"idx":1422,"cov":38},{"idx":1423,"cov":19},{"idx":1424,"cov":30},{"idx":1425,"cov":8},{"idx":1426,"cov":42},{"idx":1427,"cov":22},{"idx":1428,"cov":14},{"idx":1432,"cov":72},{"idx":1430,"cov":34},{"idx":1431,"cov":25},{"idx":1429,"cov":17},{"idx":1433,"cov":40},{"idx":1434,"cov":28},{"idx":1435,"cov":11},{"idx":1436,"cov":36},{"idx":1437,"cov":20},{"idx":1438,"cov":30},{"idx":1439,"cov":6},{"idx":1440,"cov":24},{"idx":1441,"cov":38},{"idx":1442,"cov":15},{"idx":1443,"cov":27},{"idx":1444,"cov":0},{"idx":1445,"cov":33},{"idx":1446,"cov":18},{"idx":1447,"cov":12},{"idx":1448,"cov":25},{"idx":1449,"cov":40},{"idx":1450,"cov":9},{"idx":1451,"cov":22},{"idx":1452,"cov":54},{"idx":1453,"cov":30},{"idx":1454,"cov":14},{"idx":1455,"cov":20},{"idx":1456,"cov":8},{"idx":1457,"cov":28},{"idx":1458,"cov":16},{"idx":1459,"cov":24},{"idx":1460,"cov":12},{"idx":1461,"cov":29},{"idx":1462,"cov":20},{"idx":1463,"cov":10},{"idx":1464,"cov":15},{"idx":1465,"cov":22}
]},
"mark":{"type":"circle","size":180,"color":"#70AD47","opacity":1,"clip":false},
"encoding":{
"x":{"field":"idx","type":"quantitative","scale":{"domain":[0,1500],"nice":false,"zero":true},
"axis":{"title":"Sample index","values":[0,200,400,600,800,1000,1200,1400],"format":"d","grid":false,"ticks":false,"domain":true,"domainColor":"#000000","domainWidth":2.5,"labelFont":"Lato","labelFontSize":27,"labelFontWeight":"bold","labelColor":"#000000","labelPadding":26,"titleFont":"Lato","titleFontSize":30,"titleFontWeight":"bold","titleColor":"#000000","titlePadding":13,"labelFlush":false}},
"y":{"field":"cov","type":"quantitative","scale":{"domain":[0,200],"nice":false},
"axis":{"title":"Coverage","values":[0,20,40,60,80,100,120,140,160,180,200],"grid":true,"gridColor":"#D9D9D9","gridWidth":1.5,"ticks":false,"domain":true,"domainColor":"#000000","domainWidth":2.5,"labelFont":"Lato","labelFontSize":27,"labelFontWeight":"bold","labelColor":"#000000","labelPadding":30,"titleFont":"Lato","titleFontSize":28,"titleFontWeight":"bold","titleColor":"#000000","titlePadding":14}}
},
"config":{"view":{"stroke":null}}
}
